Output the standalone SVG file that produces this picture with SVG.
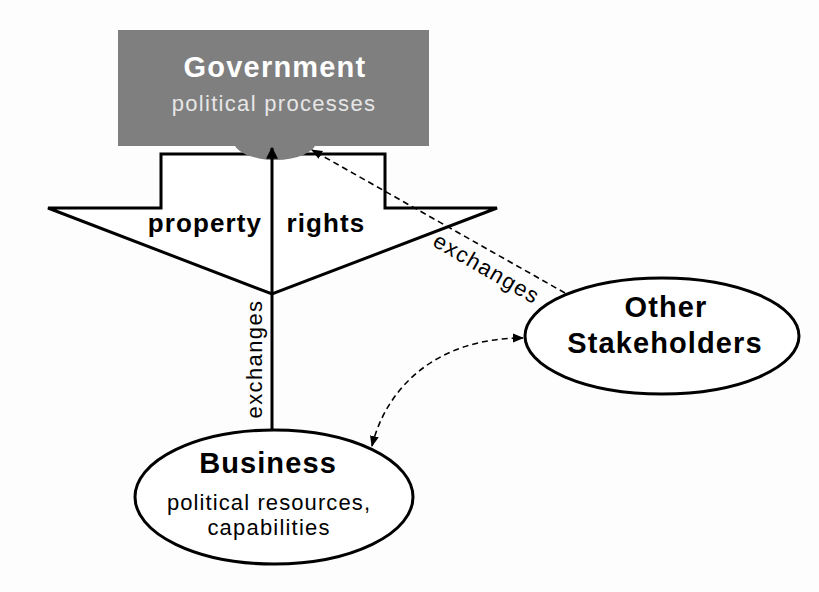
<svg xmlns="http://www.w3.org/2000/svg" width="819" height="592" viewBox="0 0 819 592">
  <style>
    .title { font-family: "Liberation Sans", Arial, sans-serif; font-weight: bold; text-anchor: middle; font-size: 29px; letter-spacing: 1.1px; }
    .sub { font-family: "Liberation Sans", Arial, sans-serif; text-anchor: middle; font-size: 22px; letter-spacing: 1.1px; }
    .label { font-family: "Liberation Sans", Arial, sans-serif; text-anchor: middle; font-size: 22px; letter-spacing: 1.4px; }
    .outline { fill: #ffffff; stroke: #000000; stroke-width: 3; }
    .dash { fill: none; stroke: #000000; stroke-width: 1.6; stroke-dasharray: 6 4; }
  </style>
  <defs>
    <marker id="solidHead" viewBox="0 0 10 10" refX="9" refY="5" markerWidth="4" markerHeight="4" orient="auto">
      <path d="M0,0 L10,5 L0,10 z" fill="#000"/>
    </marker>
    <marker id="dashHead" viewBox="0 0 10 10" refX="9" refY="5" markerWidth="7" markerHeight="7" orient="auto-start-reverse">
      <path d="M0,1 L10,5 L0,9 z" fill="#000"/>
    </marker>
  </defs>
  <rect width="819" height="592" fill="#fdfdfd"/>

  <!-- property rights: large downward block arrow -->
  <g id="property-rights">
    <path class="outline" d="M161,154 L385,154 L385,208 L497,208 L272,294 L48,208 L161,208 Z"/>
    <text class="title" x="205" y="232" style="font-size:26px">property</text>
    <text class="title" x="326" y="232" style="font-size:26px">rights</text>
  </g>

  <!-- government node -->
  <g id="government">
    <ellipse cx="275" cy="140" rx="42" ry="20" fill="#7f7f7f"/>
    <rect x="118" y="30" width="311" height="116" fill="#7f7f7f"/>
    <text class="title" x="275" y="77" fill="#ffffff" style="letter-spacing:1.2px">Government</text>
    <text class="sub" x="274" y="111" fill="#e6e6e6" style="letter-spacing:1.3px">political processes</text>
  </g>

  <!-- business node -->
  <g id="business">
    <ellipse class="outline" cx="274" cy="497" rx="139" ry="67"/>
    <text class="title" x="268" y="473">Business</text>
    <text class="sub" x="269" y="510">political resources,</text>
    <text class="sub" x="269" y="535" style="letter-spacing:1.2px">capabilities</text>
  </g>

  <!-- other stakeholders node -->
  <g id="stakeholders">
    <ellipse class="outline" cx="662" cy="336" rx="137" ry="58"/>
    <text class="title" x="666" y="317">Other</text>
    <text class="title" x="665" y="353">Stakeholders</text>
  </g>

  <!-- connectors -->
  <g id="connectors">
    <line x1="272" y1="430" x2="272" y2="148" stroke="#000" stroke-width="3" marker-end="url(#solidHead)"/>
    <text class="label" transform="translate(262,359) rotate(-90)">exchanges</text>

    <line class="dash" x1="565" y1="293" x2="312" y2="150" marker-end="url(#dashHead)"/>
    <text class="label" transform="translate(483,275) rotate(30)">exchanges</text>

    <path class="dash" d="M372,446 C385,392 432,338 523,338" marker-start="url(#dashHead)" marker-end="url(#dashHead)"/>
  </g>
</svg>
